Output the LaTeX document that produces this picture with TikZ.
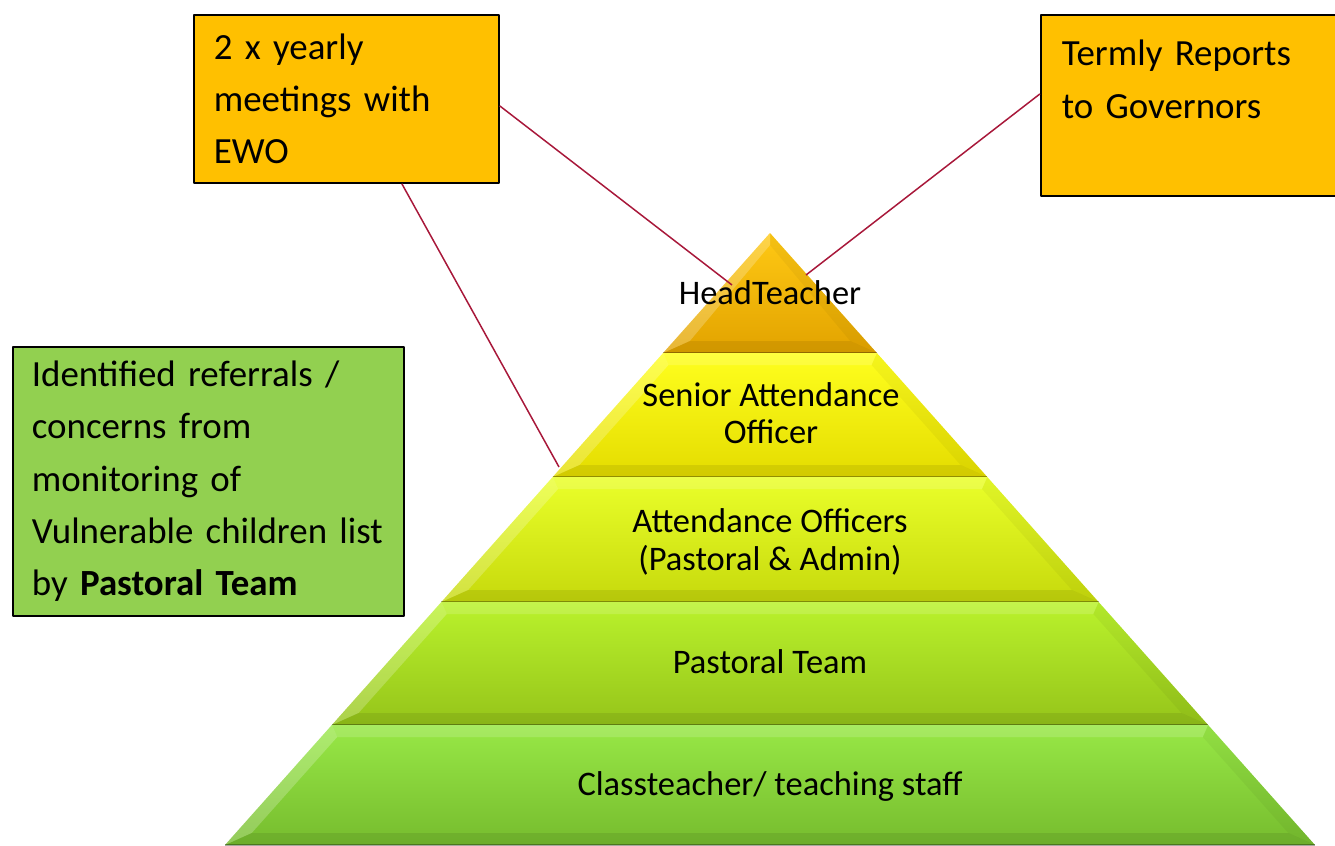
\documentclass[tikz,border=0pt]{standalone}
\usepackage{fontspec}
\setmainfont{Carlito}
\usetikzlibrary{positioning}
\usepackage{xcolor}
\definecolor{boxgold}{HTML}{FFC000}
\definecolor{boxgreen}{HTML}{92D050}
\definecolor{linkred}{HTML}{A8183A}
\definecolor{headtop}{HTML}{FFC914}
\definecolor{headbot}{HTML}{E2A300}
\definecolor{seniortop}{HTML}{FFFF1E}
\definecolor{seniorbot}{HTML}{E4DC00}
\definecolor{officertop}{HTML}{EAFF2A}
\definecolor{officerbot}{HTML}{C6D90C}
\definecolor{pastoraltop}{HTML}{BAF22C}
\definecolor{pastoralbot}{HTML}{95C41A}
\definecolor{stafftop}{HTML}{98E846}
\definecolor{staffbot}{HTML}{76BC2E}
\def\apex{233}
\def\midx{770}
\def\slope{0.8905}

\begin{document}
\begin{tikzpicture}[x=0.02cm, y=-0.02cm, line join=round]
    \tikzstyle{note}=[draw=black, line width=1pt, anchor=north west, align=left, inner ysep=0pt, font=\fontsize{21}{29.8}\selectfont]
    \tikzstyle{tier}=[align=center, font=\fontsize{19.6}{21.3}\selectfont]
    \tikzstyle{link}=[draw=linkred, line width=0.85pt]

    \useasboundingbox (0,0) rectangle (1335,845);
    \clip (0,0) rectangle (1335,845);

    % Draw the pyramid tiers, top to bottom
    \foreach \name/\ytop/\ybot in {head/233/353, senior/353/477, officer/477/602, pastoral/602/725, staff/725/845}
    {
        \pgfmathsetmacro\wt{\slope*(\ytop-\apex)}
        \pgfmathsetmacro\wb{\slope*(\ybot-\apex)}
        \pgfmathsetmacro\wti{max(\slope*(\ytop+12-\apex)-16,0)}
        \pgfmathsetmacro\wbi{\slope*(\ybot-12-\apex)-16}
        \shade[top color=\name top, bottom color=\name bot]
            ({\midx-\wt},\ytop) -- ({\midx+\wt},\ytop) -- ({\midx+\wb},\ybot) -- ({\midx-\wb},\ybot) -- cycle;
        % bevel strips
        \fill[white, opacity=0.22] ({\midx-\wt},\ytop) -- ({\midx-\wb},\ybot) -- ({\midx-\wbi},\ybot-12) -- ({\midx-\wti},\ytop+12) -- cycle;
        \fill[white, opacity=0.15] ({\midx-\wt},\ytop) -- ({\midx+\wt},\ytop) -- ({\midx+\wti},\ytop+12) -- ({\midx-\wti},\ytop+12) -- cycle;
        \fill[black, opacity=0.04] ({\midx+\wt},\ytop) -- ({\midx+\wb},\ybot) -- ({\midx+\wbi},\ybot-12) -- ({\midx+\wti},\ytop+12) -- cycle;
        \fill[black, opacity=0.08] ({\midx-\wb},\ybot) -- ({\midx+\wb},\ybot) -- ({\midx+\wbi},\ybot-12) -- ({\midx-\wbi},\ybot-12) -- cycle;
        \draw[black, opacity=0.3, line width=0.8pt] ({\midx-\wb},\ybot) -- ({\midx+\wb},\ybot);
    }

    % Tier labels
    \node[tier] (head) at (770,293) {HeadTeacher};
    \node[tier] (senior) at (771,413) {Senior Attendance\\Officer};
    \node[tier] (officers) at (770,542) {Attendance Officers\\(Pastoral \& Admin)};
    \node[tier] (pastoral) at (770,662) {Pastoral Team};
    \node[tier] (staff) at (770,786) {Classteacher/ teaching staff};

    % Side notes
    \node[note, fill=boxgold, inner xsep=0.4cm, text width=5.3cm, minimum height=3.36cm] (ewo) at (193,14)
        {2 x yearly\\meetings with\\EWO};
    \node[note, fill=boxgold, inner xsep=0.42cm, text width=5.3cm, minimum height=3.62cm] (gov) at (1040,14)
        {Termly Reports\\to Governors\\\mbox{}};
    \node[note, fill=boxgreen, inner xsep=0.38cm, text width=7.06cm, minimum height=5.38cm] (pastoralnote) at (12,346)
        {Identified referrals /\\concerns from\\monitoring of\\Vulnerable children list\\by \textbf{Pastoral Team}};

    % Connect the notes to the top of the pyramid
    \coordinate (headL) at (732,285);
    \coordinate (headR) at (806,275);
    \coordinate (seniorL) at (559,467);
    \draw[link] ([yshift=-0.14cm]ewo.east) -- (headL);
    \draw[link] ([xshift=1.11cm]ewo.south) -- (seniorL);
    \draw[link] ([yshift=0.23cm]gov.west) -- (headR);
\end{tikzpicture}
\end{document}
